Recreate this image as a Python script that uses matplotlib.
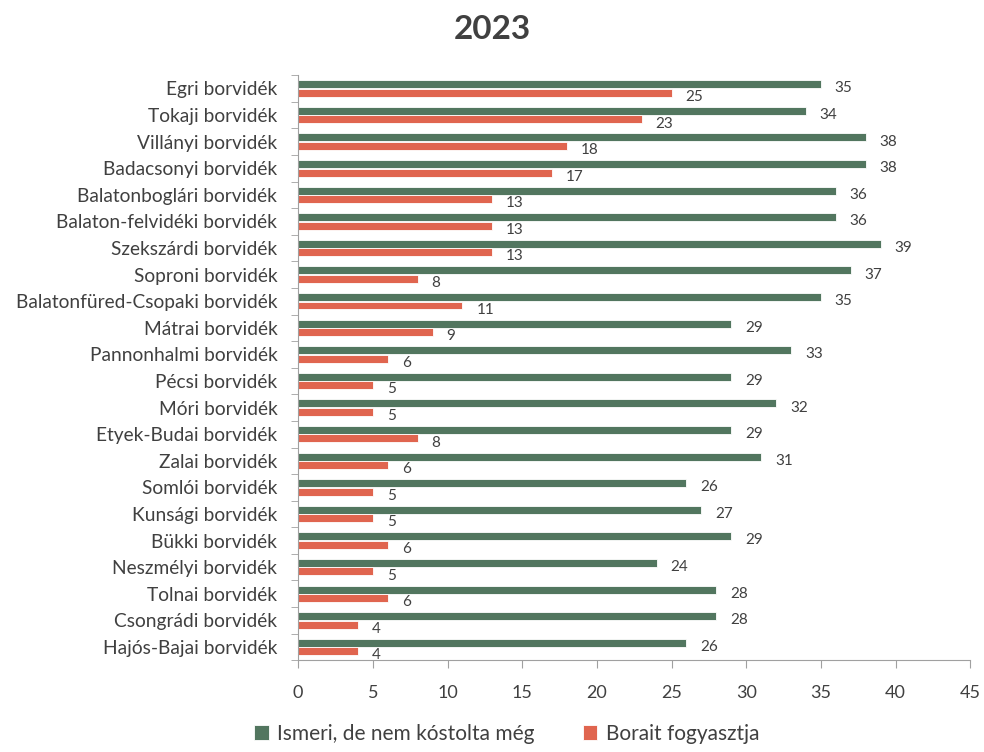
import numpy as np
import matplotlib
matplotlib.use("Agg")
import matplotlib.pyplot as plt

plt.rcParams['font.family'] = ['Lato', 'DejaVu Sans']

regions = ["Egri borvidék", "Tokaji borvidék", "Villányi borvidék", "Badacsonyi borvidék",
           "Balatonboglári borvidék", "Balaton-felvidéki borvidék", "Szekszárdi borvidék",
           "Soproni borvidék", "Balatonfüred-Csopaki borvidék", "Mátrai borvidék",
           "Pannonhalmi borvidék", "Pécsi borvidék", "Móri borvidék", "Etyek-Budai borvidék",
           "Zalai borvidék", "Somlói borvidék", "Kunsági borvidék", "Bükki borvidék",
           "Neszmélyi borvidék", "Tolnai borvidék", "Csongrádi borvidék", "Hajós-Bajai borvidék"]
knows = [35, 34, 38, 38, 36, 36, 39, 37, 35, 29, 33, 29, 32, 29, 31, 26, 27, 29, 24, 28, 28, 26]
drinks = [25, 23, 18, 17, 13, 13, 13, 8, 11, 9, 6, 5, 5, 8, 6, 5, 5, 6, 5, 6, 4, 4]

green = "#52765f"
red = "#e0654f"
txt = "#404040"

fig = plt.figure(figsize=(9.84, 7.52), dpi=100)
ax = fig.add_axes([0.303, 0.122, 0.683, 0.778])

y = np.arange(len(regions))
h = 0.3
b1 = ax.barh(y - 0.16, knows, height=h, color=green, edgecolor="white", linewidth=0.6,
             label="Ismeri, de nem kóstolta még")
b2 = ax.barh(y + 0.16, drinks, height=h, color=red, edgecolor="white", linewidth=0.6,
             label="Borait fogyasztja")

for bars, vals in ((b1, knows), (b2, drinks)):
    for r, v in zip(bars, vals):
        ax.annotate(str(v), (r.get_width(), r.get_y() + r.get_height() / 2),
                    xytext=(10, -3), textcoords="offset points", ha="left", va="center",
                    fontsize=11, color=txt)

ax.set_ylim(len(regions) - 0.5, -0.5)
ax.set_xlim(0, 45)
ax.set_xticks(range(0, 50, 5))
ax.set_yticks(y)
ax.set_yticklabels(regions, fontsize=13.8, color=txt)
ax.set_yticks(np.arange(-0.5, len(regions), 1), minor=True)
ax.tick_params(axis="y", which="major", length=0, pad=15)
ax.tick_params(axis="y", which="minor", length=5, color="#a0a0a0")
ax.tick_params(axis="x", length=6, color="#a0a0a0", labelsize=13, labelcolor=txt, pad=12)

for s in ("top", "right"):
    ax.spines[s].set_visible(False)
for s in ("left", "bottom"):
    ax.spines[s].set_color("#a0a0a0")

fig.suptitle("2023", fontsize=24, fontweight="bold", color=txt, y=0.98)

fig.legend(handles=[b1, b2], loc="lower center", bbox_to_anchor=(0.515, -0.014), ncol=2,
           frameon=False, fontsize=15, handlelength=0.7, handleheight=0.7,
           columnspacing=2.3, handletextpad=0.4, labelcolor=txt)

fig.savefig("out.png", dpi=100)
